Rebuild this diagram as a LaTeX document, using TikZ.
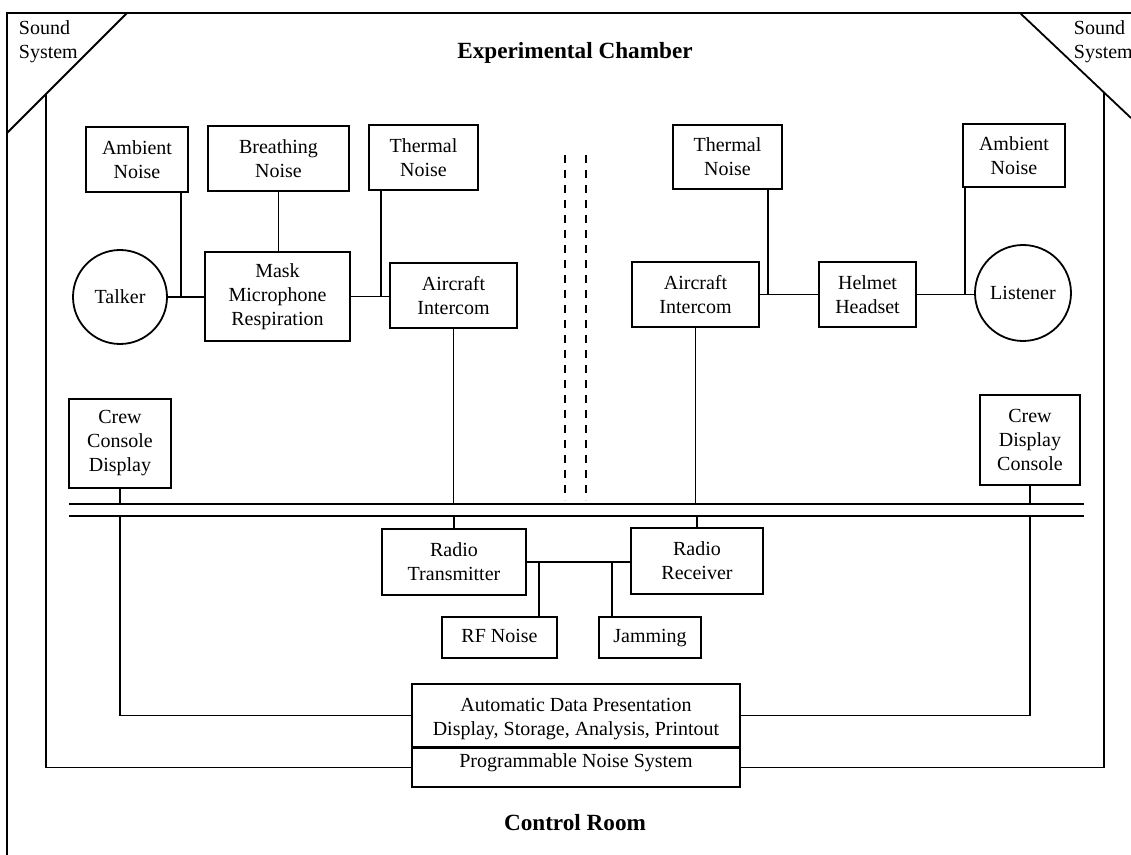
\documentclass[tikz,border=0pt]{standalone}
\usepackage{fontspec}
\setmainfont{Liberation Serif}
\begin{document}
\begin{tikzpicture}[x=0.5pt, y=-0.5pt, line width=0.9pt,
  blk/.style={draw, rectangle, align=center, inner sep=2pt},
  person/.style={draw, circle, inner sep=1pt},
  heading/.style={font=\fontsize{11.6}{14}\selectfont\bfseries},
  corner/.style={align=left, anchor=north west, inner sep=0pt},
  divider/.style={line width=0.7pt, dash pattern=on 4pt off 3.5pt}]
\useasboundingbox (0,0) rectangle (1131,855);
\draw (7,855) -- (7,13) -- (1131,13);
\draw (7,133) -- (127,13);
\draw (1020,13) -- (1131,118);
\node[corner] (sndL) at (18,20) {Sound\\System};
\node[corner] (sndR) at (1073,20) {Sound\\System};
\node[heading] (chamber) at (575,53) {Experimental Chamber};
\node[heading] (control) at (575,823) {Control Room};
\draw[divider] (565,155) -- (565,500);
\draw[divider] (586,155) -- (586,500);

\node[blk, minimum width=51pt, minimum height=32.5pt] (ambL) at (137,159.5) {Ambient\\Noise};
\node[blk, minimum width=70.5pt, minimum height=32.5pt] (breath) at (278.5,158.5) {Breathing\\Noise};
\node[blk, minimum width=54.5pt, minimum height=32.5pt] (thermL) at (423.5,157.5) {Thermal\\Noise};
\node[blk, minimum width=54.5pt, minimum height=32pt] (thermR) at (727.5,157) {Thermal\\Noise};
\node[blk, minimum width=51pt, minimum height=31.5pt] (ambR) at (1014,155.5) {Ambient\\Noise};
\node[person, minimum size=47pt] (talker) at (120,297) {Talker};
\node[blk, minimum width=72.5pt, minimum height=44.5pt] (mask) at (277.5,296.5) {Mask\\Microphone\\Respiration};
\node[blk, minimum width=63.5pt, minimum height=32.5pt] (icL) at (453.5,295.5) {Aircraft\\Intercom};
\node[blk, minimum width=63.5pt, minimum height=32.5pt] (icR) at (695.5,294.5) {Aircraft\\Intercom};
\node[blk, minimum width=48.5pt, minimum height=32.5pt] (helmet) at (867.5,294.5) {Helmet\\Headset};
\node[person, minimum size=48pt] (listener) at (1023,293) {Listener};
\node[blk, minimum width=51pt, minimum height=44.5pt] (crewL) at (120,443.5) {Crew\\Console\\Display};
\node[blk, minimum width=50pt, minimum height=45pt] (crewR) at (1030,440) {Crew\\Display\\Console};
\node[blk, minimum width=72pt, minimum height=33pt] (txL) at (454,562) {Radio\\Transmitter};
\node[blk, minimum width=66pt, minimum height=33pt] (rxR) at (697,561) {Radio\\Receiver};
\node[blk, minimum width=57.5pt, minimum height=20.5pt, text height=7pt, text depth=2pt] (rf) at (499.5,637.5) {RF Noise};
\node[blk, minimum width=51pt, minimum height=20.5pt, text height=7pt, text depth=2pt] (jam) at (650,637.5) {Jamming};
\node[blk, minimum width=164pt, minimum height=31.5pt, text height=22pt] (adp) at (576,715.5) {Automatic Data Presentation\\Display, Storage, Analysis, Printout};
\node[blk, minimum width=164pt, anchor=north, inner ysep=3pt, text height=7pt, text depth=6.5pt] (pns) at (576,747) {Programmable Noise System};

\coordinate (jTalk) at (181,297);
\coordinate (jMic) at (381,297);
\coordinate (jHelm) at (768,294);
\coordinate (jList) at (965,294);
\coordinate (jRF) at (539,562);
\coordinate (jJam) at (612,562);
\coordinate (busTL) at (69,504);
\coordinate (busTR) at (1084,504);
\coordinate (busBL) at (69,516);
\coordinate (busBR) at (1084,516);
\coordinate (sysL) at (46,94);
\coordinate (sysR) at (1104,93);

\draw (talker.east) -- (talker.east -| mask.west);
\draw (ambL.south -| jTalk) -- (jTalk);
\draw (breath.south) -- (breath.south |- mask.north);
\draw (mask.east) -- (mask.east -| icL.west);
\draw (thermL.south -| jMic) -- (jMic);
\draw (icR.east) -- (icR.east -| helmet.west);
\draw (thermR.south -| jHelm) -- (jHelm);
\draw (helmet.east) -- (helmet.east -| listener.west);
\draw (ambR.south -| jList) -- (jList);

\draw (busTL) -- (busTR);
\draw (busBL) -- (busBR);
\draw (icL.south) -- (icL.south |- busTL);
\draw (icR.south) -- (icR.south |- busTL);
\draw (crewL.south) -- (crewL.south |- busTL);
\draw (crewR.south) -- (crewR.south |- busTL);
\draw (txL.north |- busBL) -- (txL.north);
\draw (rxR.north |- busBL) -- (rxR.north);
\draw (txL.east) -- (txL.east -| rxR.west);
\draw (jRF) -- (jRF |- rf.north);
\draw (jJam) -- (jJam |- jam.north);

\draw (crewL.south |- busBL) |- (adp.west);
\draw (crewR.south |- busBL) |- (adp.east);
\draw (sysL) |- (pns.west);
\draw (sysR) |- (pns.east);

\end{tikzpicture}
\end{document}
